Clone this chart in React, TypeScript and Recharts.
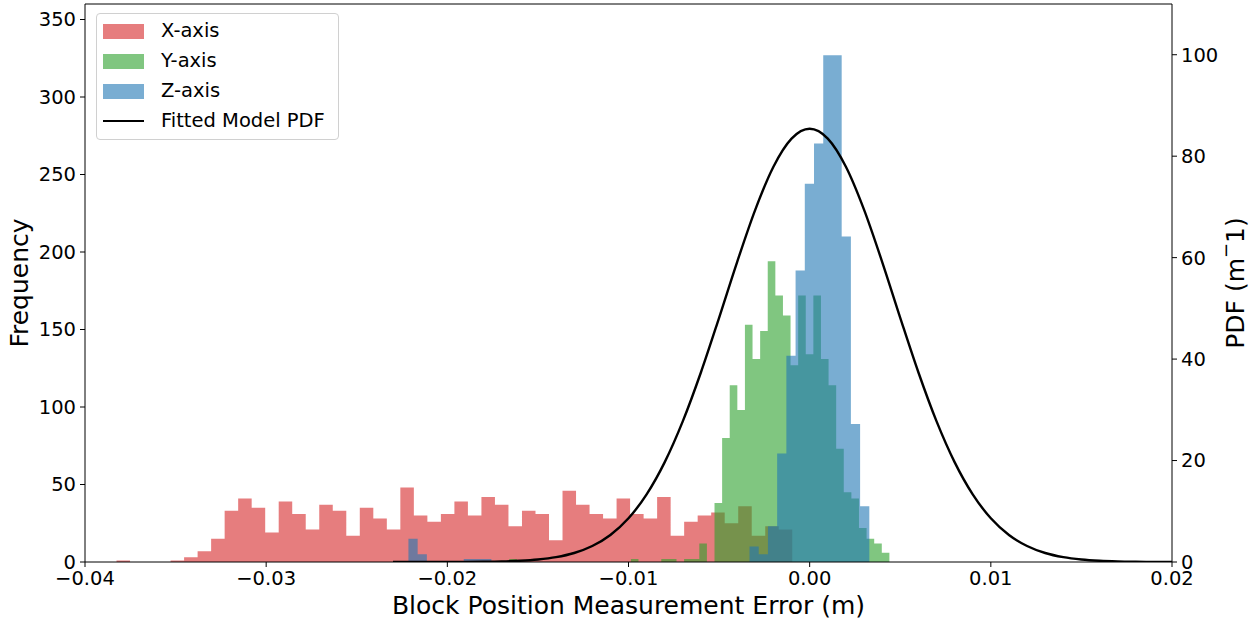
import React from "react";
import { ComposedChart, Area, Line, XAxis, YAxis, ReferenceLine } from "recharts";

// histogram bins (50 bins per axis)
const xAxisStart = -0.03826;
const xAxisBinWidth = 0.000746;
const xAxisCounts = [
  1, 0, 0, 0, 1, 3, 7, 15, 33, 41, 35, 19, 39, 31, 21, 37, 33, 17, 35, 28,
  21, 48, 30, 26, 31, 39, 30, 42, 37, 23, 33, 31, 14, 46, 37, 31, 28, 41, 31, 28,
  42, 17, 26, 30, 32, 25, 36, 17, 23, 21,
];

const yAxisStart = -0.016584;
const yAxisBinWidth = 0.0004197;
const yAxisCounts = [
  2, 0, 0, 0, 0, 0, 0, 0, 0, 0, 0, 0, 0, 0, 0, 0, 2, 0, 0, 0,
  2, 2, 0, 2, 2, 12, 0, 38, 80, 114, 98, 153, 131, 149, 194, 172, 159, 127, 172, 134,
  172, 131, 114, 73, 45, 41, 22, 15, 12, 6,
];

const zAxisStart = -0.022147;
const zAxisBinWidth = 0.0005088;
const zAxisCounts = [
  15, 5, 0, 0, 0, 0, 2, 2, 2, 0, 0, 0, 0, 0, 0, 0, 0, 0, 0, 0,
  0, 0, 0, 0, 0, 0, 0, 0, 0, 0, 0, 0, 0, 0, 0, 0, 0, 10, 5, 23,
  70, 133, 188, 244, 270, 327, 327, 210, 89, 36,
];

// fitted model pdf
const pdfX = [
  -0.023, -0.022, -0.021, -0.02, -0.019, -0.018, -0.017, -0.016, -0.015, -0.014,
  -0.013, -0.012, -0.011, -0.01, -0.009, -0.008, -0.007, -0.006, -0.005, -0.004,
  -0.003, -0.002, -0.001, 0, 0.001, 0.002, 0.003, 0.004, 0.005, 0.006,
  0.007, 0.008, 0.009, 0.01, 0.011, 0.012, 0.013, 0.014, 0.015, 0.016,
  0.017, 0.018, 0.019, 0.02,
];
const pdfY = [
  0.0, 0.0, 0.0, 0.01, 0.02, 0.05, 0.11, 0.24, 0.49, 0.95,
  1.77, 3.15, 5.33, 8.62, 13.33, 19.69, 27.77, 37.41, 48.14, 59.18,
  69.47, 77.92, 83.46, 85.4, 83.46, 77.92, 69.47, 59.18, 48.14, 37.41,
  27.77, 19.69, 13.33, 8.62, 5.33, 3.15, 1.77, 0.95, 0.49, 0.24,
  0.11, 0.05, 0.02, 0.01,
];

const xTicks = [-0.04, -0.03, -0.02, -0.01, 0, 0.01, 0.02];
const freqTicks = [0, 50, 100, 150, 200, 250, 300, 350];
const pdfTicks = [0, 20, 40, 60, 80, 100];

const RED = "#d62728";
const GREEN = "#2ca02c";
const BLUE = "#1f77b4";
const FONT = "'DejaVu Sans', sans-serif";
const LABEL_SIZE = 25;

const toSteps = (start: number, width: number, counts: number[]) => {
  const pts = counts.map((c, i) => ({ x: start + i * width, count: c }));
  pts.push({ x: start + counts.length * width, count: counts[counts.length - 1] });
  return pts;
};

const xData = toSteps(xAxisStart, xAxisBinWidth, xAxisCounts);
const yData = toSteps(yAxisStart, yAxisBinWidth, yAxisCounts);
const zData = toSteps(zAxisStart, zAxisBinWidth, zAxisCounts);
const pdfData = pdfX.map((x, i) => ({ x, pdf: pdfY[i] }));

const fmtX = (v: number) => (v < 0 ? "\u2212" : "") + Math.abs(v).toFixed(2);

const tickStyle = { fontSize: 19.5, fill: "#000", fontFamily: FONT };
const labelStyle = { fontSize: LABEL_SIZE, fill: "#000", fontFamily: FONT };

const legendItems = [
  { label: "X-axis", color: RED },
  { label: "Y-axis", color: GREEN },
  { label: "Z-axis", color: BLUE },
];

const Legend = () => (
  <div
    style={{
      position: "absolute",
      left: 96,
      top: 13,
      width: 241,
      height: 125,
      border: "1px solid #d0d0d0",
      borderRadius: 4,
      background: "rgba(255,255,255,0.8)",
      fontFamily: FONT,
      fontSize: 19.5,
      color: "#000",
    }}
  >
    {legendItems.map((it, i) => (
      <div key={it.label} style={{ position: "absolute", left: 6, top: 9 + i * 30, height: 16, display: "flex", alignItems: "center" }}>
        <div style={{ width: 41, height: 15, background: it.color, opacity: 0.6 }} />
        <span style={{ marginLeft: 17, lineHeight: "16px" }}>{it.label}</span>
      </div>
    ))}
    <div style={{ position: "absolute", left: 6, top: 99, height: 16, display: "flex", alignItems: "center" }}>
      <div style={{ width: 41, height: 2, background: "#000" }} />
      <span style={{ marginLeft: 17, lineHeight: "16px" }}>Fitted Model PDF</span>
    </div>
  </div>
);

export default function App() {
  return (
    <div style={{ position: "absolute", left: 0, top: 0, width: 1253, height: 621, background: "#fff" }}>
      <ComposedChart width={1253} height={621} margin={{ top: 4, right: 0, bottom: 0, left: 0 }}>
        <XAxis
          dataKey="x"
          type="number"
          domain={[-0.04, 0.02]}
          ticks={xTicks}
          tickFormatter={fmtX}
          allowDataOverflow
          height={59}
          tickSize={5}
          tickMargin={4}
          tick={tickStyle}
          stroke="#000"
          label={({ viewBox }: any) => (
            <text
              x={viewBox.x + viewBox.width / 2}
              y={605}
              textAnchor="middle"
              dominantBaseline="central"
              style={labelStyle}
            >
              Block Position Measurement Error (m)
            </text>
          )}
        />
        <YAxis
          yAxisId="left"
          domain={[0, 360]}
          ticks={freqTicks}
          width={85}
          tickSize={5}
          tickMargin={4}
          tick={tickStyle}
          stroke="#000"
          allowDataOverflow
          label={({ viewBox }: any) => {
            const cx = 19;
            const cy = viewBox.y + viewBox.height / 2;
            return (
              <text
                x={cx}
                y={cy}
                transform={`rotate(-90 ${cx} ${cy})`}
                textAnchor="middle"
                dominantBaseline="central"
                style={labelStyle}
              >
                Frequency
              </text>
            );
          }}
        />
        <YAxis
          yAxisId="right"
          orientation="right"
          domain={[0, 110]}
          ticks={pdfTicks}
          width={81}
          tickSize={5}
          tickMargin={4}
          tick={tickStyle}
          stroke="#000"
          allowDataOverflow
          label={({ viewBox }: any) => {
            const cx = 1235;
            const cy = viewBox.y + viewBox.height / 2;
            return (
              <text
                x={cx}
                y={cy}
                transform={`rotate(-90 ${cx} ${cy})`}
                textAnchor="middle"
                dominantBaseline="central"
                style={labelStyle}
              >
                PDF (m
                <tspan dy={-10} style={{ fontSize: 18 }}>{"\u2212"}</tspan>
                <tspan dy={10}>1)</tspan>
              </text>
            );
          }}
        />
        <ReferenceLine yAxisId="left" y={360} stroke="#000" strokeWidth={1} />
        <Area
          yAxisId="left"
          data={xData}
          dataKey="count"
          type="stepAfter"
          stroke="none"
          fill={RED}
          fillOpacity={0.6}
          isAnimationActive={false}
        />
        <Area
          yAxisId="left"
          data={yData}
          dataKey="count"
          type="stepAfter"
          stroke="none"
          fill={GREEN}
          fillOpacity={0.6}
          isAnimationActive={false}
        />
        <Area
          yAxisId="left"
          data={zData}
          dataKey="count"
          type="stepAfter"
          stroke="none"
          fill={BLUE}
          fillOpacity={0.6}
          isAnimationActive={false}
        />
        <Line
          yAxisId="right"
          data={pdfData}
          dataKey="pdf"
          type="monotone"
          stroke="#000"
          strokeWidth={2.4}
          dot={false}
          activeDot={false}
          isAnimationActive={false}
        />
      </ComposedChart>
      <Legend />
    </div>
  );
}
